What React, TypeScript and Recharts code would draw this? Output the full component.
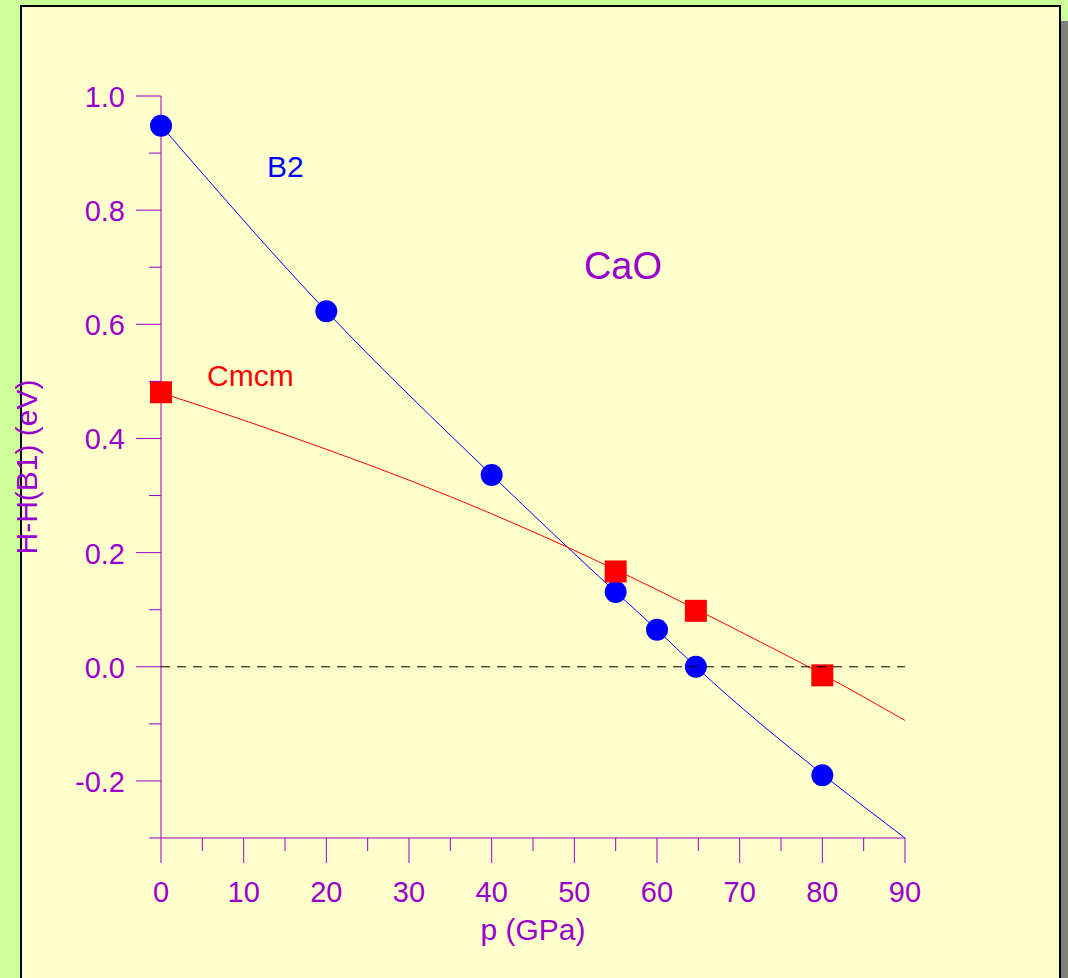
import React from 'react';
import { ComposedChart, Line, Scatter, XAxis, YAxis } from 'recharts';

// Pressure (GPa) and enthalpy differences (eV)
const b2Pressure = [0, 20, 40, 55, 60, 64.7, 80];
const b2Values = [0.948, 0.623, 0.336, 0.131, 0.065, 0.0, -0.19];
const b2FitPressure = [0, 20, 40, 55, 60, 64.7, 80, 90];
const b2FitValues = [0.948, 0.623, 0.336, 0.131, 0.065, 0.0, -0.188, -0.3];
const cmcmPressure = [0, 55, 64.7, 80];
const cmcmValues = [0.481, 0.167, 0.098, -0.015];
const cmcmFitPressure = [0, 10, 20, 30, 40, 50, 60, 70, 80, 90];
const cmcmFitValues = [0.48, 0.432, 0.381, 0.327, 0.268, 0.204, 0.135, 0.062, -0.013, -0.094];
const zeroPressure = [0, 90];
const zeroValues = [0, 0];
const xTicks = [0, 5, 10, 15, 20, 25, 30, 35, 40, 45, 50, 55, 60, 65, 70, 75, 80, 85, 90];
const yTicks = [-0.3, -0.2, -0.1, 0, 0.1, 0.2, 0.3, 0.4, 0.5, 0.6, 0.7, 0.8, 0.9, 1.0];

const zip = (xs: number[], ys: number[]) => xs.map((x, i) => ({ x, y: ys[i] }));
const b2Data = zip(b2Pressure, b2Values);
const b2Fit = zip(b2FitPressure, b2FitValues);
const cmcmData = zip(cmcmPressure, cmcmValues);
const cmcmFit = zip(cmcmFitPressure, cmcmFitValues);
const zeroData = zip(zeroPressure, zeroValues);

const PURPLE = '#9900CC';
const FONT = '"Liberation Sans", Arial, sans-serif';

const XTick = (props: any) => {
  const { x, y, payload } = props;
  const v = payload.value;
  const major = Math.round(v) % 10 === 0;
  return (
    <g>
      <line x1={x} y1={y} x2={x} y2={y + (major ? 25 : 13)} stroke={PURPLE} strokeWidth={1} />
      {major && (
        <text x={x} y={y + 64} textAnchor="middle" fill={PURPLE} fontSize={29} fontFamily={FONT}>
          {String(v)}
        </text>
      )}
    </g>
  );
};

const YTick = (props: any) => {
  const { x, y, payload } = props;
  const v = payload.value;
  const major = Math.round(v * 10) % 2 === 0;
  return (
    <g>
      <line x1={x - (major ? 25 : 12)} y1={y} x2={x} y2={y} stroke={PURPLE} strokeWidth={1} />
      {major && (
        <text x={x - 36} y={y + 11} textAnchor="end" fill={PURPLE} fontSize={29} fontFamily={FONT}>
          {v.toFixed(1)}
        </text>
      )}
    </g>
  );
};

const Circle = (props: any) => <circle cx={props.cx} cy={props.cy} r={11} fill="#0000FF" />;
const Square = (props: any) => (
  <rect x={props.cx - 11} y={props.cy - 11} width={22} height={22} fill="#FF0000" />
);
const NoShape = () => <g />;

export default function App() {
  return (
    <div
      style={{
        position: 'absolute',
        left: 0,
        top: 0,
        width: 1068,
        height: 978,
        background: '#CCFF99',
        overflow: 'hidden',
      }}
    >
      <div style={{ position: 'absolute', left: 1061, top: 21, width: 7, height: 957, background: '#808080' }} />
      <div
        style={{
          position: 'absolute',
          left: 20,
          top: 5,
          width: 1041,
          height: 1000,
          background: '#FFFFCC',
          border: '2px solid #000',
          boxSizing: 'border-box',
        }}
      />
      <div style={{ position: 'absolute', left: 0, top: 0 }}>
        <ComposedChart width={1068} height={978} margin={{ top: 96, right: 163, bottom: 80, left: 101 }}>
          <XAxis
            dataKey="x"
            type="number"
            domain={[0, 90]}
            ticks={xTicks}
            interval={0}
            height={60}
            tickSize={0}
            tickMargin={0}
            tickLine={false}
            axisLine={{ stroke: PURPLE, strokeWidth: 1 }}
            tick={<XTick />}
          />
          <YAxis
            dataKey="y"
            type="number"
            domain={[-0.3, 1.0]}
            ticks={yTicks}
            interval={0}
            width={60}
            tickSize={0}
            tickMargin={0}
            tickLine={false}
            axisLine={{ stroke: PURPLE, strokeWidth: 1 }}
            tick={<YTick />}
          />
          <Line
            data={b2Fit}
            dataKey="y"
            type="monotone"
            stroke="#0000FF"
            strokeWidth={1}
            dot={false}
            activeDot={false}
            isAnimationActive={false}
          />
          <Line
            data={cmcmFit}
            dataKey="y"
            type="monotone"
            stroke="#FF0000"
            strokeWidth={1}
            dot={false}
            activeDot={false}
            isAnimationActive={false}
          />
          <Scatter data={b2Data} dataKey="y" shape={<Circle />} isAnimationActive={false} />
          <Scatter data={cmcmData} dataKey="y" shape={<Square />} isAnimationActive={false} />
          <Scatter
            data={zeroData}
            dataKey="y"
            shape={<NoShape />}
            line={{ stroke: '#000000', strokeWidth: 1, strokeDasharray: '9 7' }}
            isAnimationActive={false}
          />
        </ComposedChart>
      </div>
      <svg
        width={1068}
        height={978}
        style={{ position: 'absolute', left: 0, top: 0, pointerEvents: 'none' }}
      >
        <text x={267} y={177} fill="#0000FF" fontSize={30} fontFamily={FONT}>
          B2
        </text>
        <text x={207} y={386} fill="#FF0000" fontSize={30} fontFamily={FONT}>
          Cmcm
        </text>
        <text x={623} y={279} textAnchor="middle" fill={PURPLE} fontSize={38} fontFamily={FONT}>
          CaO
        </text>
        <text x={533} y={940} textAnchor="middle" fill={PURPLE} fontSize={30} fontFamily={FONT}>
          p (GPa)
        </text>
        <text
          x={0}
          y={0}
          transform="translate(37,467) rotate(-90)"
          textAnchor="middle"
          fill={PURPLE}
          fontSize={30}
          fontFamily={FONT}
        >
          H-H(B1) (eV)
        </text>
      </svg>
    </div>
  );
}
